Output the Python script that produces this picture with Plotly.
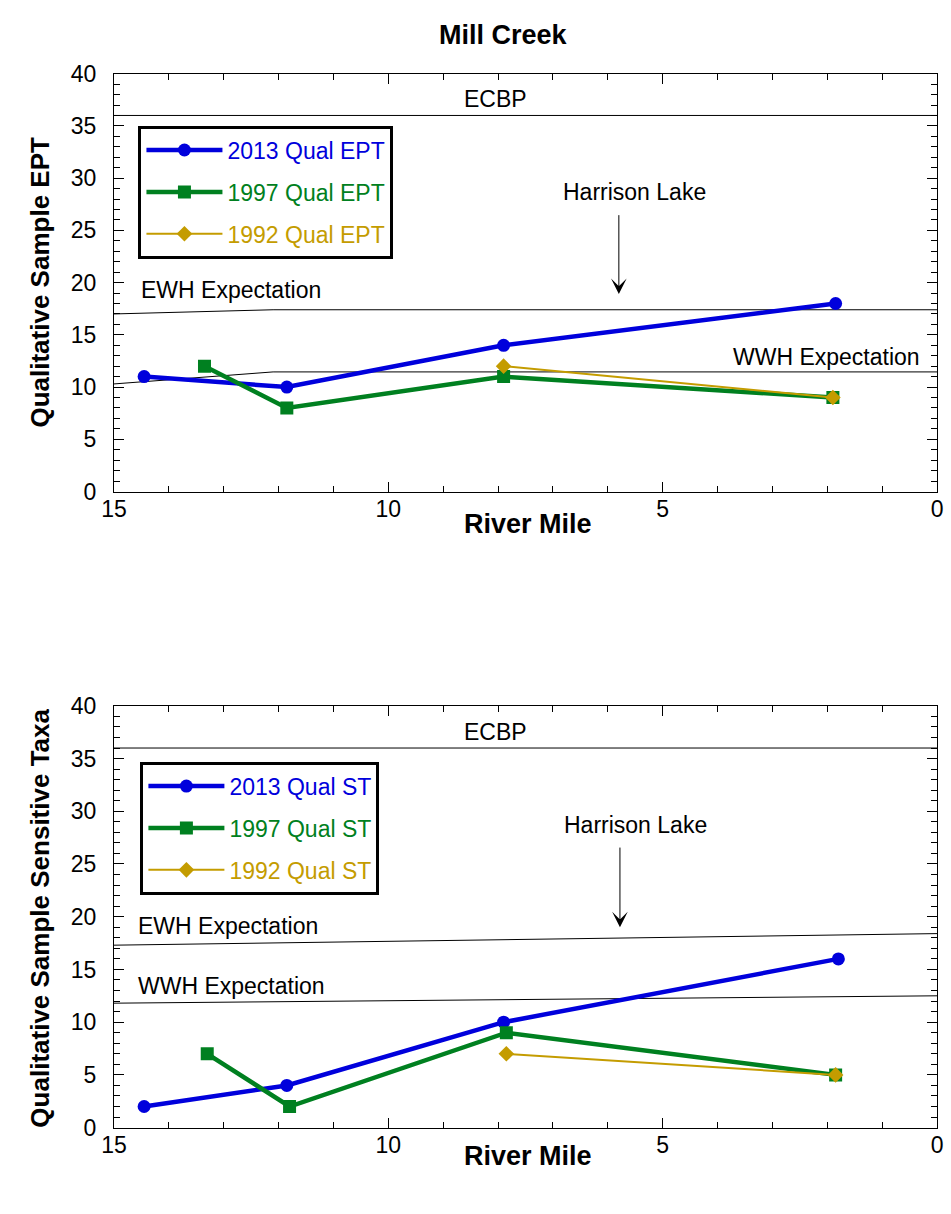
import plotly.graph_objects as go

# ---------------- data ----------------
# Top panel: Qualitative Sample EPT
ept_2013_rm = [14.45, 11.85, 7.9, 1.85]
ept_2013 = [11, 10, 14, 18]
ept_1997_rm = [13.35, 11.85, 7.9, 1.9]
ept_1997 = [12, 8, 11, 9]
ept_1992_rm = [7.9, 1.9]
ept_1992 = [12, 9]

# Bottom panel: Qualitative Sample Sensitive Taxa
st_2013_rm = [14.45, 11.85, 7.9, 1.8]
st_2013 = [2, 4, 10, 16]
st_1997_rm = [13.3, 11.8, 7.85, 1.85]
st_1997 = [7, 2, 9, 5]
st_1992_rm = [7.85, 1.85]
st_1992 = [7, 5]

# Criteria lines
ecbp_rm = [15, 0]
ecbp_top = [36, 36]
ecbp_bot = [36, 36]
ewh_top_rm = [15, 12.1, 0]
ewh_top = [17.0, 17.4, 17.4]
wwh_top_rm = [15, 12.1, 0]
wwh_top = [10.3, 11.45, 11.45]
ewh_bot_rm = [15, 0]
ewh_bot = [17.3, 18.4]
wwh_bot_rm = [15, 0]
wwh_bot = [11.8, 12.5]

BLUE = "rgb(0,0,220)"
GREEN = "rgb(0,128,32)"
GOLD = "rgb(196,156,0)"
FONT = "Liberation Sans, Arial, sans-serif"
FS = 23

fig = go.Figure()

def crit(xs, ys, xa, ya):
    fig.add_trace(go.Scatter(x=xs, y=ys, mode="lines", line=dict(color="black", width=1),
                             showlegend=False, hoverinfo="skip", xaxis=xa, yaxis=ya))

crit(ecbp_rm, ecbp_top, "x", "y")
crit(ewh_top_rm, ewh_top, "x", "y")
crit(wwh_top_rm, wwh_top, "x", "y")
crit(ecbp_rm, ecbp_bot, "x2", "y2")
crit(ewh_bot_rm, ewh_bot, "x2", "y2")
crit(wwh_bot_rm, wwh_bot, "x2", "y2")

def series(xs, ys, name, color, width, symbol, size, xa, ya, legend, group):
    fig.add_trace(go.Scatter(
        x=xs, y=ys, mode="lines+markers",
        name=f"<span style='color:{color}'>{name}</span>",
        line=dict(color=color, width=width),
        marker=dict(color=color, symbol=symbol, size=size),
        xaxis=xa, yaxis=ya, legend=legend, legendgroup=group))

series(ept_2013_rm, ept_2013, "2013 Qual EPT", BLUE, 4.5, "circle", 13, "x", "y", "legend", "a1")
series(ept_1997_rm, ept_1997, "1997 Qual EPT", GREEN, 4.5, "square", 13, "x", "y", "legend", "a2")
series(ept_1992_rm, ept_1992, "1992 Qual EPT", GOLD, 2, "diamond", 12, "x", "y", "legend", "a3")
series(st_2013_rm, st_2013, "2013 Qual ST", BLUE, 4.5, "circle", 13, "x2", "y2", "legend2", "b1")
series(st_1997_rm, st_1997, "1997 Qual ST", GREEN, 4.5, "square", 13, "x2", "y2", "legend2", "b2")
series(st_1992_rm, st_1992, "1992 Qual ST", GOLD, 2, "diamond", 12, "x2", "y2", "legend2", "b3")

W, H = 951, 1214
def px(X):
    return X / W
def py(Y):
    return 1 - Y / H

xdom = [px(103), px(943)]
ydom_top = [py(489), py(62)]
ydom_bot = [py(1139), py(708)]

def xax(anchor):
    return dict(domain=xdom, anchor=anchor, range=[15, 0], dtick=5, tick0=0,
                ticks="inside", ticklen=10, tickwidth=1, tickcolor="black",
                showline=True, linecolor="black", linewidth=1, mirror="allticks",
                showgrid=False, zeroline=False, ticklabelstandoff=-3,
                tickfont=dict(family=FONT, size=FS, color="black"),
                minor=dict(ticks="inside", dtick=1, ticklen=6, tickcolor="black", showgrid=False))

def yax(dom, anchor):
    return dict(domain=dom, anchor=anchor, range=[0, 40], dtick=5, tick0=0,
                ticks="inside", ticklen=10, tickwidth=1, tickcolor="black",
                showline=True, linecolor="black", linewidth=1, mirror="allticks",
                showgrid=False, zeroline=False, ticklabelstandoff=12,
                tickfont=dict(family=FONT, size=FS, color="black"),
                minor=dict(ticks="inside", dtick=1, ticklen=6, tickcolor="black", showgrid=False))

def legend_cfg(x, y):
    return dict(x=x, y=y, xanchor="left", yanchor="top", xref="paper", yref="paper",
                bgcolor="white", bordercolor="black", borderwidth=3,
                font=dict(family=FONT, size=FS), tracegroupgap=9, itemsizing="trace",
                itemwidth=76)

annotations = []
def txt(text, x, y, xa, ya, xanchor="center", size=FS, bold=False):
    annotations.append(dict(text=f"<b>{text}</b>" if bold else text, x=x, y=y, xref=xa, yref=ya,
                            xanchor=xanchor, yanchor="middle", showarrow=False,
                            font=dict(family=FONT, size=size, color="black")))

# top panel labels
txt("ECBP", 8.05, 37.6, "x", "y")
txt("Harrison Lake", 5.52, 28.7, "x", "y")
txt("EWH Expectation", 14.55, 19.3, "x", "y", xanchor="left")
txt("WWH Expectation", 0.28, 12.9, "x", "y", xanchor="right")
annotations.append(dict(x=5.8, y=18.9, ax=5.8, ay=26.6, xref="x", yref="y", axref="x", ayref="y",
                        showarrow=True, arrowhead=3, arrowsize=2.6, arrowwidth=1, arrowcolor="black", text=""))
# bottom panel labels
txt("ECBP", 8.05, 37.5, "x2", "y2")
txt("Harrison Lake", 5.5, 28.7, "x2", "y2")
txt("EWH Expectation", 14.6, 19.1, "x2", "y2", xanchor="left")
txt("WWH Expectation", 14.6, 13.4, "x2", "y2", xanchor="left")
annotations.append(dict(x=5.78, y=19.0, ax=5.78, ay=26.7, xref="x2", yref="y2", axref="x2", ayref="y2",
                        showarrow=True, arrowhead=3, arrowsize=2.6, arrowwidth=1, arrowcolor="black", text=""))

# titles
TS = 27
txt("Mill Creek", px(500), py(22), "paper", "paper", size=TS, bold=True)
txt("River Mile", px(526), py(522), "paper", "paper", size=TS, bold=True)
txt("River Mile", px(526), py(1168), "paper", "paper", size=TS, bold=True)
for label, yc in [("Qualitative Sample EPT", 275), ("Qualitative Sample Sensitive Taxa", 925)]:
    annotations.append(dict(text=f"<b>{label}</b>", x=px(28), y=py(yc), xref="paper", yref="paper",
                            xanchor="center", yanchor="middle", showarrow=False, textangle=-90,
                            font=dict(family=FONT, size=TS - 1, color="black")))

fig.update_layout(
    width=W, height=H, margin=dict(l=0, r=0, t=0, b=0),
    paper_bgcolor="white", plot_bgcolor="white",
    font=dict(family=FONT, color="black"),
    xaxis=xax("y"), yaxis=yax(ydom_top, "x"),
    xaxis2=xax("y2"), yaxis2=yax(ydom_bot, "x2"),
    legend=legend_cfg(px(128), py(115)),
    legend2=legend_cfg(px(130), py(765)),
    annotations=annotations,
    showlegend=True,
)

# remove the default page margin so the figure sits at the window's top-left corner
page_fix = ("document.documentElement.style.margin='0';"
            "document.documentElement.style.overflow='hidden';"
            "document.body.style.margin='0';"
            "document.body.style.padding='0';"
            "document.body.style.overflow='hidden';")

fig.write_html("out.html", post_script=page_fix)
